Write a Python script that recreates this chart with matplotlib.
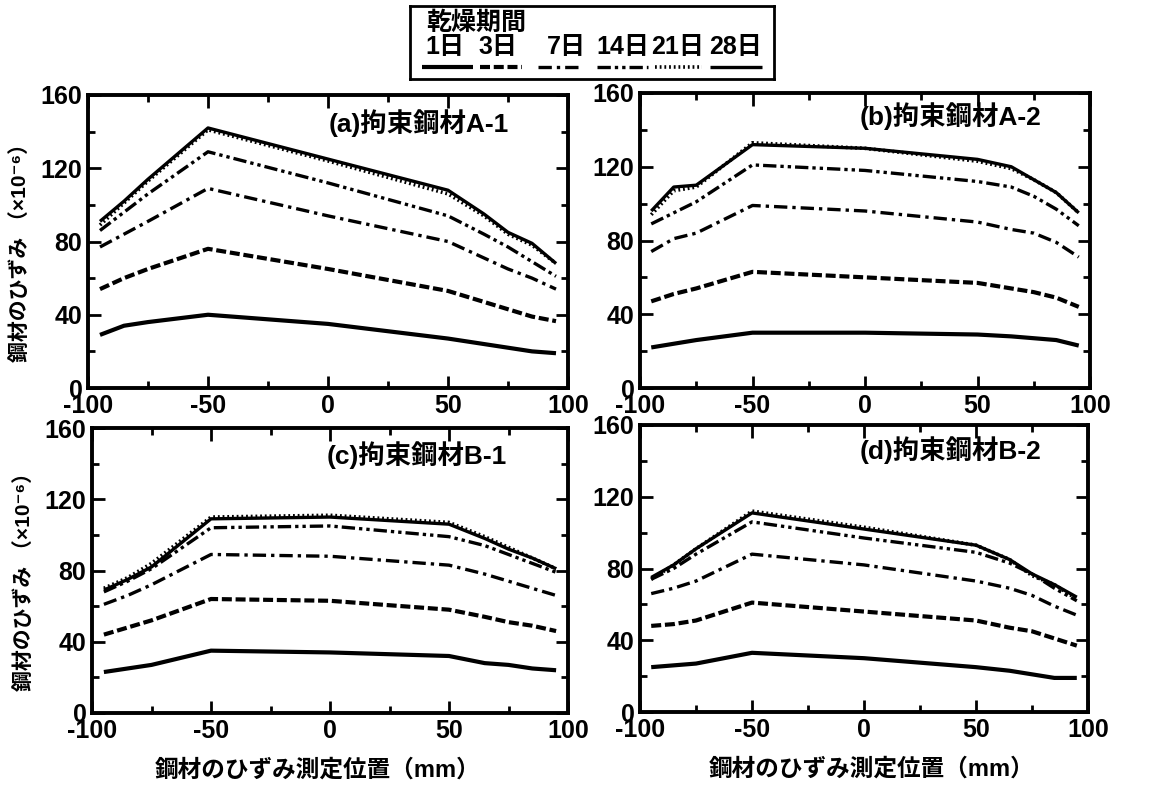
import numpy as np
import matplotlib
matplotlib.use('Agg')
from matplotlib import pyplot as plt
from matplotlib.ticker import MultipleLocator

plt.rcParams['font.family'] = ['Liberation Sans', 'Noto Sans CJK JP', 'DejaVu Sans']
plt.rcParams['font.weight'] = 'bold'
plt.rcParams['axes.unicode_minus'] = False

# measurement positions (mm)
pos = [-95, -85, -75, -50, 0, 50, 65, 75, 85, 95]
days = ['1日', '3日', '7日', '14日', '21日', '28日']

# strain (x10^-6), one list per drying period
a_vals = [
	[29, 34, 36, 40, 35, 27, 24, 22, 20, 19],
	[54, 60, 65, 76, 65, 53, 47, 43, 39, 36.5],
	[77, 84, 91, 109, 94, 80, 71, 65, 60, 54],
	[86, 96, 106, 129, 112, 94, 84, 77, 69, 61],
	[89, 101, 113, 141, 124, 106, 94, 84, 78, 68],
	[91, 102, 114, 142, 125, 108, 95, 85, 79, 68],
]
b_vals = [
	[22, 24, 26, 30, 30, 29, 28, 27, 26, 23],
	[47, 51, 54, 63, 60, 57, 54, 52, 49, 44],
	[74, 81, 84, 99, 96, 90, 86, 84, 79, 71],
	[89, 95, 101, 121, 118, 112, 109, 104, 97, 88],
	[94, 107, 109, 133, 130, 123, 119, 113, 106, 95],
	[96, 109, 110, 132, 130, 124, 120, 113, 106, 95],
]
c_vals = [
	[23, 25, 27, 35, 34, 32, 28, 27, 25, 24],
	[44, 48, 52, 64, 63, 58, 54, 51, 49, 46],
	[61, 66, 72, 89, 88, 83, 78, 74, 70, 66],
	[68, 74, 81, 104, 105, 99, 94, 89, 84, 79],
	[70, 76, 84, 110, 111, 107, 99, 93, 87, 81],
	[69, 75, 82, 109, 110, 106, 98, 92, 87, 81],
]
d_vals = [
	[25, 26, 27, 33, 30, 25, 23, 21, 19, 19],
	[48, 49, 51, 61, 56, 51, 47, 45, 41, 37],
	[66, 69, 73, 88, 82, 73, 69, 65, 59, 54],
	[74, 80, 88, 106, 97, 89, 83, 77, 69, 62],
	[74, 82, 91, 112, 103, 93, 85, 76, 71, 63],
	[75, 82, 91, 111, 102, 93, 85, 77, 71, 64],
]
titles = ['(a)拘束鋼材A-1', '(b)拘束鋼材A-2', '(c)拘束鋼材B-1', '(d)拘束鋼材B-2']

styles = [
	dict(ls='-', lw=3.0),
	dict(ls=(0, (2.4, 0.9)), lw=3.0),
	dict(ls=(0, (4, 1.5, 1, 1.5)), lw=2.4),
	dict(ls=(0, (4, 1.2, 1, 1.2, 1, 1.2)), lw=2.4),
	dict(ls=(0, (0.5, 0.8)), lw=2.6),
	dict(ls='-', lw=2.4),
]

W, H = 1153, 787
fig = plt.figure(figsize=(W / 100, H / 100), dpi=100)

def box(l, t, r, b):
	return [l / W, 1 - b / H, (r - l) / W, (b - t) / H]

rects = [box(88, 95, 568, 388), box(640, 93, 1090, 388),
	box(92, 428, 568, 713), box(640, 425, 1088, 712)]
tpos = [(0.69, 0.905), (0.69, 0.92), (0.683, 0.905), (0.692, 0.913)]
xl_pos = [None, None, 0.475, 0.518]

for i, vals in enumerate([a_vals, b_vals, c_vals, d_vals]):
	ax = fig.add_axes(rects[i])
	for j in range(6):
		ax.plot(pos, vals[j], color='black', solid_capstyle='butt',
			dash_capstyle='butt', **styles[j])
	ax.set_xlim(-100, 100)
	ax.set_ylim(0, 160)
	ax.xaxis.set_major_locator(MultipleLocator(50))
	ax.xaxis.set_minor_locator(MultipleLocator(25))
	ax.yaxis.set_major_locator(MultipleLocator(40))
	ax.yaxis.set_minor_locator(MultipleLocator(20))
	ax.tick_params(which='both', direction='in', top=True, right=True, width=2)
	ax.tick_params(which='major', length=9, labelsize=18, pad=4)
	ax.tick_params(which='minor', length=5)
	for lab in ax.get_xticklabels() + ax.get_yticklabels():
		lab.set_fontweight('bold')
	for s in ax.spines.values():
		s.set_linewidth(2.8)
	ax.text(tpos[i][0], tpos[i][1], titles[i], transform=ax.transAxes,
		ha='center', va='center', fontsize=19, fontweight='bold')
	if i in (0, 2):
		ax.set_ylabel('鋼材のひずみ （×10⁻⁶）', fontsize=15, fontweight='bold')
		ax.yaxis.label.set_va('center')
		ax.yaxis.set_label_coords(-0.142, 0.48)
	if i in (2, 3):
		ax.set_xlabel('鋼材のひずみ測定位置（mm）', fontsize=17, fontweight='bold')
		ax.xaxis.label.set_va('center')
		ax.xaxis.set_label_coords(xl_pos[i], -0.2)

# legend box
lg = fig.add_axes(box(410, 6, 774, 79))
lg.set_xlim(410, 774)
lg.set_ylim(79, 6)
lg.set_xticks([])
lg.set_yticks([])
for s in lg.spines.values():
	s.set_linewidth(2)
lg.text(426, 23, '乾燥期間', fontsize=18, fontweight='bold', va='center', ha='left')
lab_x = [445, 498, 566, 623, 678, 735]
seg = [(422, 473), (480, 522), (538, 583), (597, 648), (655, 702), (710, 762)]
for j in range(6):
	lg.text(lab_x[j], 47, days[j], fontsize=18, fontweight='bold', va='center', ha='center')
	lg.plot(seg[j], [67, 67], color='black', solid_capstyle='butt',
		dash_capstyle='butt', **styles[j])

fig.savefig('out.png', dpi=100)
